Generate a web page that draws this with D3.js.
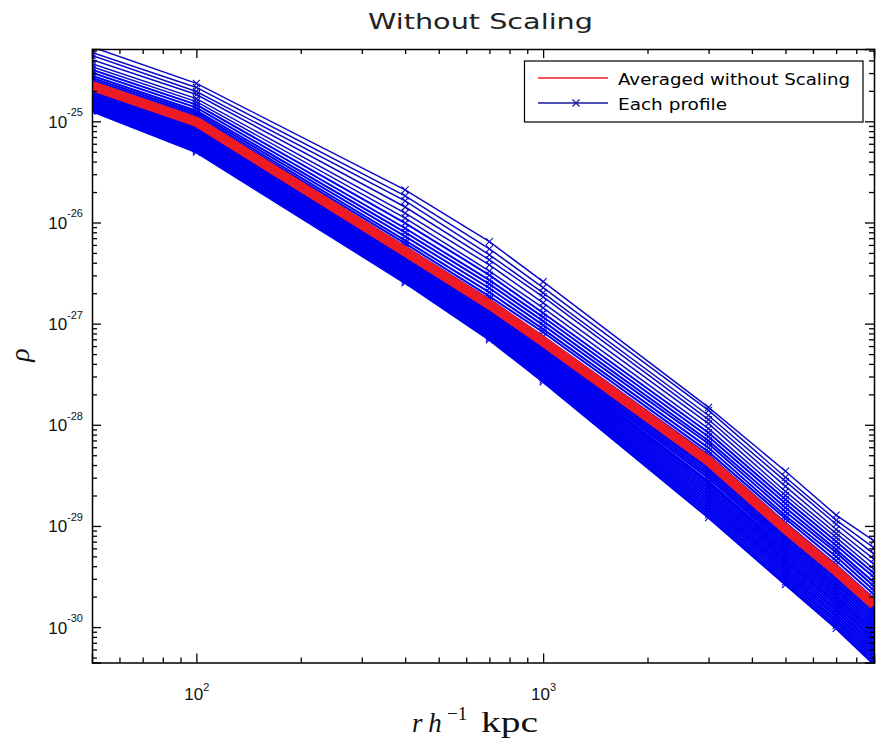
<!DOCTYPE html>
<html>
<head>
<meta charset="utf-8">
<script src="https://cdn.jsdelivr.net/npm/d3@7"></script>
<style>
  html, body { margin: 0; padding: 0; background: #ffffff; }
  svg { display: block; }
</style>
</head>
<body>
<svg id="chart" width="877" height="741"></svg>
<script>
// ---------- DATA (log10 of rho) ----------
const radii = [50, 100, 400, 700, 1000, 3000, 5000, 7000, 9000];

const averageLog10 = [-24.650, -25.005, -26.287, -26.810, -27.175, -28.358, -29.029, -29.443, -29.778];

const upperProfilesLog10 = [
  [-24.265, -24.625, -25.677, -26.190, -26.585, -27.828, -28.459, -28.893, -29.148],
  [-24.320, -24.665, -25.737, -26.260, -26.645, -27.858, -28.519, -28.943, -29.218],
  [-24.350, -24.705, -25.787, -26.320, -26.695, -27.908, -28.559, -28.983, -29.278],
  [-24.390, -24.735, -25.847, -26.370, -26.735, -27.948, -28.609, -29.033, -29.328],
  [-24.430, -24.775, -25.907, -26.420, -26.795, -27.988, -28.659, -29.073, -29.378],
  [-24.460, -24.805, -25.957, -26.480, -26.845, -28.038, -28.699, -29.113, -29.428],
  [-24.490, -24.835, -26.007, -26.520, -26.895, -28.078, -28.739, -29.153, -29.468],
  [-24.520, -24.865, -26.057, -26.570, -26.935, -28.118, -28.779, -29.193, -29.508],
  [-24.550, -24.895, -26.097, -26.610, -26.975, -28.158, -28.819, -29.233, -29.558],
  [-24.570, -24.915, -26.137, -26.650, -27.015, -28.188, -28.859, -29.263, -29.598],
  [-24.590, -24.935, -26.177, -26.690, -27.055, -28.228, -28.899, -29.303, -29.638],
  [-24.610, -24.955, -26.207, -26.730, -27.085, -28.268, -28.929, -29.343, -29.678],
  [-24.630, -24.975, -26.237, -26.760, -27.125, -28.298, -28.969, -29.383, -29.718]
];

const lowerProfilesLog10 = [
  [-24.663, -25.020, -26.303, -26.828, -27.195, -28.386, -29.057, -29.472, -29.808],
  [-24.675, -25.035, -26.318, -26.845, -27.215, -28.414, -29.084, -29.500, -29.837],
  [-24.688, -25.050, -26.334, -26.863, -27.235, -28.442, -29.112, -29.529, -29.867],
  [-24.700, -25.065, -26.349, -26.880, -27.255, -28.470, -29.139, -29.557, -29.896],
  [-24.713, -25.080, -26.365, -26.898, -27.275, -28.498, -29.167, -29.586, -29.926],
  [-24.725, -25.095, -26.380, -26.915, -27.295, -28.526, -29.194, -29.614, -29.955],
  [-24.738, -25.110, -26.396, -26.933, -27.315, -28.560, -29.222, -29.643, -29.985],
  [-24.750, -25.125, -26.411, -26.950, -27.335, -28.582, -29.249, -29.671, -30.014],
  [-24.763, -25.140, -26.427, -26.968, -27.355, -28.610, -29.277, -29.700, -30.044],
  [-24.775, -25.155, -26.442, -26.985, -27.375, -28.638, -29.304, -29.728, -30.073],
  [-24.788, -25.170, -26.458, -27.003, -27.395, -28.666, -29.332, -29.757, -30.103],
  [-24.800, -25.185, -26.473, -27.020, -27.415, -28.694, -29.359, -29.785, -30.132],
  [-24.813, -25.200, -26.489, -27.038, -27.435, -28.722, -29.387, -29.814, -30.162],
  [-24.825, -25.215, -26.504, -27.055, -27.455, -28.750, -29.414, -29.842, -30.191],
  [-24.838, -25.230, -26.520, -27.073, -27.475, -28.778, -29.442, -29.871, -30.221],
  [-24.850, -25.245, -26.535, -27.090, -27.495, -28.806, -29.469, -29.899, -30.250],
  [-24.863, -25.260, -26.551, -27.108, -27.515, -28.834, -29.497, -29.928, -30.280],
  [-24.875, -25.275, -26.566, -27.125, -27.535, -28.862, -29.524, -29.956, -30.309],
  [-24.888, -25.290, -26.582, -27.143, -27.555, -28.890, -29.552, -29.985, -30.339],
  [-24.900, -25.305, -26.597, -27.160, -27.575, -28.918, -29.579, -30.013, -30.368]
];

const xDomain = [50, 9000];
const yDomainLog10 = [-30.35, -24.285];
const xMajorTicks = [100, 1000];
const xMajorExponents = ["2", "3"];
const yMajorExponents = [-25, -26, -27, -28, -29, -30];

const titleText = "Without Scaling";
const legendLabels = ["Averaged without Scaling", "Each profile"];

// ---------- LAYOUT ----------
const plot = { left: 92, right: 874, top: 49, bottom: 662.5 };
const svg = d3.select("#chart");

const x = d3.scaleLog().domain(xDomain).range([plot.left, plot.right]);
const y = d3.scaleLog().domain(yDomainLog10.map(v => Math.pow(10, v))).range([plot.bottom, plot.top]);

svg.append("defs").append("clipPath").attr("id", "clip")
  .append("rect").attr("x", plot.left).attr("y", plot.top)
  .attr("width", plot.right - plot.left).attr("height", plot.bottom - plot.top);

const line = d3.line().x(d => x(d[0])).y(d => y(d[1]));
const toPoints = arr => arr.map((v, i) => [radii[i], Math.pow(10, v)]);

const gData = svg.append("g").attr("clip-path", "url(#clip)");

const blue = "#0000f0";
const navy = "#0a0ac8";
const red = "#ee1b24";
const xMarker = "M-3.5,-3.5L3.5,3.5M-3.5,3.5L3.5,-3.5";

function drawProfile(p, color, width) {
  const pts = toPoints(p);
  gData.append("path").attr("d", line(pts))
    .attr("fill", "none").attr("stroke", color).attr("stroke-width", width);
  gData.selectAll(null).data(pts).enter().append("path")
    .attr("d", xMarker)
    .attr("transform", d => `translate(${x(d[0])},${y(d[1])})`)
    .attr("fill", "none").attr("stroke", color).attr("stroke-width", 1.1);
}
upperProfilesLog10.forEach((p, i) => drawProfile(p, i < 6 ? navy : blue, i < 6 ? 1.5 : 2));
lowerProfilesLog10.forEach(p => drawProfile(p, blue, 2.4));

gData.append("path").attr("d", line(toPoints(averageLog10)))
  .attr("fill", "none").attr("stroke", red).attr("stroke-width", 10)
  .attr("stroke-linejoin", "round");

// ---------- AXES ----------
const xMinor = [];
[10, 100, 1000].forEach(d => { for (let k = 2; k <= 9; k++) { const v = k * d; if (v > xDomain[0] && v <= xDomain[1] && v !== 100 && v !== 1000) xMinor.push(v); } });
const yMinor = [];
for (let e = -31; e <= -25; e++) { for (let k = 2; k <= 9; k++) { const v = k * Math.pow(10, e); if (Math.log10(v) > yDomainLog10[0] && Math.log10(v) < yDomainLog10[1]) yMinor.push(v); } }
const yMajor = yMajorExponents.map(e => Math.pow(10, e));

function styleAxis(g) {
  g.select(".domain").attr("stroke", "#000").attr("stroke-width", 1.5);
  g.selectAll(".tick line").attr("stroke", "#000").attr("stroke-width", 1.3);
}

// bottom
const gxB = svg.append("g").attr("transform", `translate(0,${plot.bottom})`)
  .call(d3.axisBottom(x).tickValues(xMajorTicks).tickSize(-9).tickFormat(""));
styleAxis(gxB);
svg.append("g").attr("transform", `translate(0,${plot.bottom})`)
  .call(d3.axisBottom(x).tickValues(xMinor).tickSize(-5).tickFormat("")).call(styleAxis)
  .select(".domain").remove();
// top
svg.append("g").attr("transform", `translate(0,${plot.top})`)
  .call(d3.axisTop(x).tickValues(xMajorTicks).tickSize(-9).tickFormat("")).call(styleAxis);
svg.append("g").attr("transform", `translate(0,${plot.top})`)
  .call(d3.axisTop(x).tickValues(xMinor).tickSize(-5).tickFormat("")).call(styleAxis)
  .select(".domain").remove();
// left
const gyL = svg.append("g").attr("transform", `translate(${plot.left},0)`)
  .call(d3.axisLeft(y).tickValues(yMajor).tickSize(-9).tickFormat(""));
styleAxis(gyL);
svg.append("g").attr("transform", `translate(${plot.left},0)`)
  .call(d3.axisLeft(y).tickValues(yMinor).tickSize(-5).tickFormat("")).call(styleAxis)
  .select(".domain").remove();
// right
svg.append("g").attr("transform", `translate(${plot.right},0)`)
  .call(d3.axisRight(y).tickValues(yMajor).tickSize(-9).tickFormat("")).call(styleAxis);
svg.append("g").attr("transform", `translate(${plot.right},0)`)
  .call(d3.axisRight(y).tickValues(yMinor).tickSize(-5).tickFormat("")).call(styleAxis)
  .select(".domain").remove();

// tick labels (10^n)
const tickFont = "'Liberation Sans', Arial, sans-serif";
gxB.selectAll(".tick text").each(function(d, i) {
  const t = d3.select(this).text(null).attr("dy", null).attr("y", 37.5)
    .attr("fill", "#111").attr("text-anchor", "middle")
    .attr("font-family", tickFont).attr("font-size", 17);
  t.append("tspan").text("10");
  t.append("tspan").attr("font-size", 11).attr("dy", -9).text(xMajorExponents[i]);
});
gyL.selectAll(".tick text").each(function(d, i) {
  const t = d3.select(this).text(null).attr("dy", null).attr("y", 6).attr("x", -9)
    .attr("fill", "#111").attr("text-anchor", "end")
    .attr("font-family", tickFont).attr("font-size", 17);
  t.append("tspan").text("10");
  t.append("tspan").attr("font-size", 11).attr("dy", -11.5).text(String(yMajorExponents[i]));
});

// ---------- TITLE & AXIS LABELS ----------
svg.append("text").attr("x", 480.5).attr("y", 29).attr("text-anchor", "middle")
  .attr("font-family", "'DejaVu Sans', sans-serif").attr("font-size", 21)
  .attr("textLength", 225).attr("lengthAdjust", "spacingAndGlyphs")
  .attr("fill", "#222").text(titleText);

const serif = "'Liberation Serif', 'DejaVu Serif', serif";
const xl = svg.append("text").attr("font-family", serif).attr("fill", "#111");
xl.append("tspan").attr("x", 412).attr("y", 731.5).attr("font-size", 27).attr("font-style", "italic").text("r");
xl.append("tspan").attr("x", 428.3).attr("y", 731.5).attr("font-size", 27).attr("font-style", "italic").text("h");
xl.append("tspan").attr("x", 447).attr("y", 720).attr("font-size", 19).text("\u22121");
xl.append("tspan").attr("x", 481).attr("y", 731.5).attr("font-size", 30)
  .attr("textLength", 57).attr("lengthAdjust", "spacingAndGlyphs").text("kpc");

svg.append("text").attr("transform", "translate(29,355) rotate(-90)")
  .attr("text-anchor", "middle").attr("font-family", serif).attr("font-style", "italic")
  .attr("font-size", 28).attr("fill", "#111").text("\u03c1");

// ---------- LEGEND ----------
const lg = svg.append("g");
lg.append("rect").attr("x", 524.5).attr("y", 61).attr("width", 338.5).attr("height", 61)
  .attr("fill", "#fff").attr("stroke", "#000").attr("stroke-width", 1.2);
lg.append("line").attr("x1", 538).attr("x2", 608).attr("y1", 78).attr("y2", 78)
  .attr("stroke", red).attr("stroke-width", 1.5);
lg.append("line").attr("x1", 538).attr("x2", 608).attr("y1", 103).attr("y2", 103)
  .attr("stroke", "#1a1a9a").attr("stroke-width", 1.5);
lg.append("path").attr("d", xMarker).attr("transform", "translate(576,103)")
  .attr("fill", "none").attr("stroke", "#1a1a9a").attr("stroke-width", 1.2);
const legFont = "'DejaVu Sans', sans-serif";
lg.append("text").attr("x", 618).attr("y", 84.5).attr("font-family", legFont).attr("font-size", 16)
  .attr("textLength", 232).attr("lengthAdjust", "spacingAndGlyphs").attr("fill", "#000").text(legendLabels[0]);
lg.append("text").attr("x", 618).attr("y", 109.5).attr("font-family", legFont).attr("font-size", 16)
  .attr("textLength", 109).attr("lengthAdjust", "spacingAndGlyphs").attr("fill", "#000").text(legendLabels[1]);
</script>
</body>
</html>
